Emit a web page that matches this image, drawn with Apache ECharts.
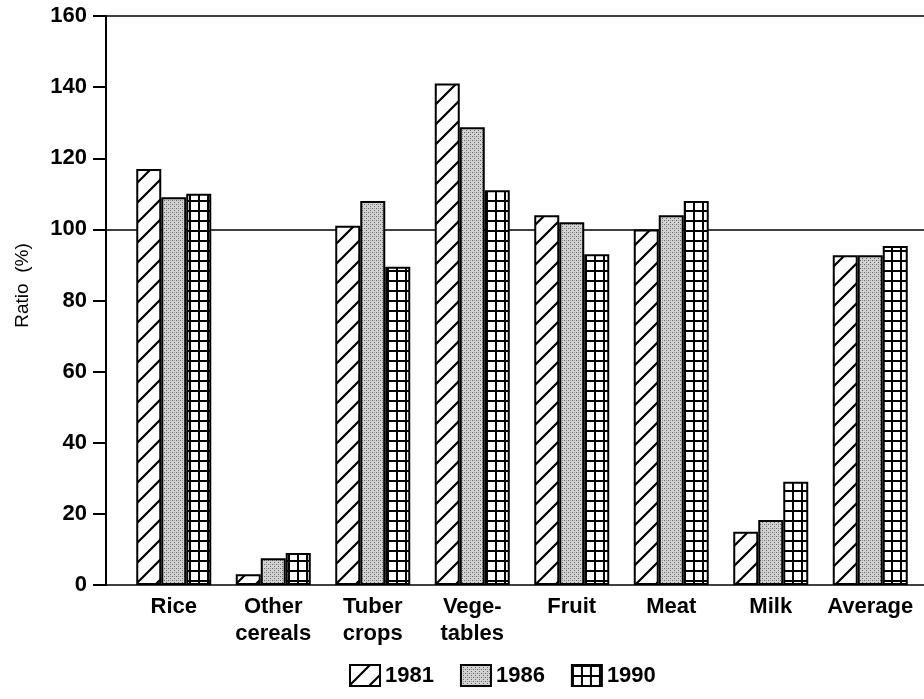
<!DOCTYPE html>
<html>
<head>
<meta charset="utf-8">
<title>Ratio (%)</title>
<script src="https://cdn.jsdelivr.net/npm/echarts@6/dist/echarts.min.js"></script>
<style>
  html, body { margin: 0; padding: 0; background: #fff; }
  #main { width: 924px; height: 699px; }
</style>
</head>
<body>
<div id="main"></div>
<script>
// data
var categories = ["Rice", "Other\ncereals", "Tuber\ncrops", "Vege-\ntables", "Fruit", "Meat", "Milk", "Average"];
var years = ["1981", "1986", "1990"];
var values1981 = [117, 3, 101, 141, 104, 100, 15, 92.7];
var values1986 = [109, 7.5, 108, 128.7, 102, 104, 18.3, 92.7];
var values1990 = [110, 9, 89.5, 111, 93, 108, 29, 95.3];
var yTicks = [0, 160, 20]; // min, max, interval

// patterns
function makeCanvas(w, h) {
  var c = document.createElement("canvas");
  c.width = w;
  c.height = h;
  return c;
}
// diagonal hatch "/"
function hatchPattern() {
  var c = makeCanvas(20, 20);
  var ctx = c.getContext("2d");
  ctx.fillStyle = "#fff";
  ctx.fillRect(0, 0, 20, 20);
  ctx.strokeStyle = "#000";
  ctx.lineWidth = 2.2;
  ctx.beginPath();
  ctx.moveTo(-2, 22); ctx.lineTo(22, -2);
  ctx.moveTo(-12, 12); ctx.lineTo(12, -12);
  ctx.moveTo(8, 32); ctx.lineTo(32, 8);
  ctx.stroke();
  return c;
}
// gray stipple
function dotPattern() {
  var c = makeCanvas(4, 4);
  var ctx = c.getContext("2d");
  ctx.fillStyle = "#d2d2d2";
  ctx.fillRect(0, 0, 4, 4);
  ctx.fillStyle = "#666";
  ctx.fillRect(0, 0, 1, 1);
  ctx.fillRect(2, 2, 1, 1);
  ctx.fillStyle = "#999";
  ctx.fillRect(2, 0, 1, 1);
  return c;
}
// square grid
function gridPattern() {
  var c = makeCanvas(9, 10);
  var ctx = c.getContext("2d");
  ctx.fillStyle = "#fff";
  ctx.fillRect(0, 0, 9, 10);
  ctx.fillStyle = "#000";
  ctx.fillRect(0, 0, 9, 2);
  ctx.fillRect(0, 0, 2, 10);
  return c;
}

var patterns = [
  { image: hatchPattern(), repeat: "repeat" },
  { image: dotPattern(), repeat: "repeat" },
  { image: gridPattern(), repeat: "repeat" }
];
var seriesValues = [values1981, values1986, values1990];

var myChart = echarts.init(document.getElementById("main"), null, { renderer: "canvas" });

var font = "'Liberation Sans', Arial, sans-serif";

var series = years.map(function (y, i) {
  return {
    name: y,
    type: "bar",
    xAxisIndex: 1,
    yAxisIndex: 2,
    barWidth: 25,
    barGap: "0%",
    data: seriesValues[i],
    itemStyle: {
      color: patterns[i],
      borderColor: "#000",
      borderWidth: 2
    }
  };
});

var option = {
  backgroundColor: "#fff",
  animation: false,
  textStyle: { fontFamily: font, color: "#000" },
  //frame grid (axis + lines) and bar grid
  grid: [
    { left: 106, right: 0, top: 16, bottom: 114 },
    { left: 124, right: 4, top: 16, bottom: 114 }
  ],
  legend: {
    data: years,
    left: 344,
    bottom: 7,
    icon: "rect",
    itemWidth: 30,
    itemHeight: 21,
    itemGap: 26,
    textStyle: { fontSize: 22, fontWeight: "bold", color: "#000", fontFamily: font }
  },
  xAxis: [
    { gridIndex: 0, type: "value", min: 0, max: 1, show: false },
    {
      gridIndex: 1,
      type: "category",
      data: categories,
      axisLine: { show: false },
      axisTick: { show: false },
      axisLabel: {
        interval: 0,
        margin: 8,
        fontSize: 22,
        fontWeight: "bold",
        lineHeight: 27,
        color: "#000",
        fontFamily: font
      }
    }
  ],
  yAxis: [
    {
      gridIndex: 0,
      type: "value",
      min: yTicks[0],
      max: yTicks[1],
      interval: yTicks[2],
      name: "Ratio  (%)",
      nameLocation: "middle",
      nameGap: 74,
      nameMoveOverlap: false,
      nameTextStyle: { fontSize: 19, color: "#000", fontFamily: font, padding: [0, 0, 0, 30] },
      axisLine: { show: true, lineStyle: { color: "#000", width: 2 } },
      axisTick: { show: true, length: 13, lineStyle: { color: "#000", width: 2 } },
      axisLabel: { fontSize: 22, fontWeight: "bold", color: "#000", margin: 19, fontFamily: font },
      splitLine: { show: false }
    },
    {
      // lines at 0, 100 and top
      gridIndex: 0,
      type: "value",
      min: 0,
      max: 160,
      interval: 100,
      axisLine: { show: false },
      axisTick: { show: false },
      axisLabel: { show: false },
      splitLine: { show: true, lineStyle: { color: "#000", width: 1.6 } }
    },
    { gridIndex: 1, type: "value", min: yTicks[0], max: yTicks[1], show: false }
  ],
  series: series
};

myChart.setOption(option);
</script>
</body>
</html>
